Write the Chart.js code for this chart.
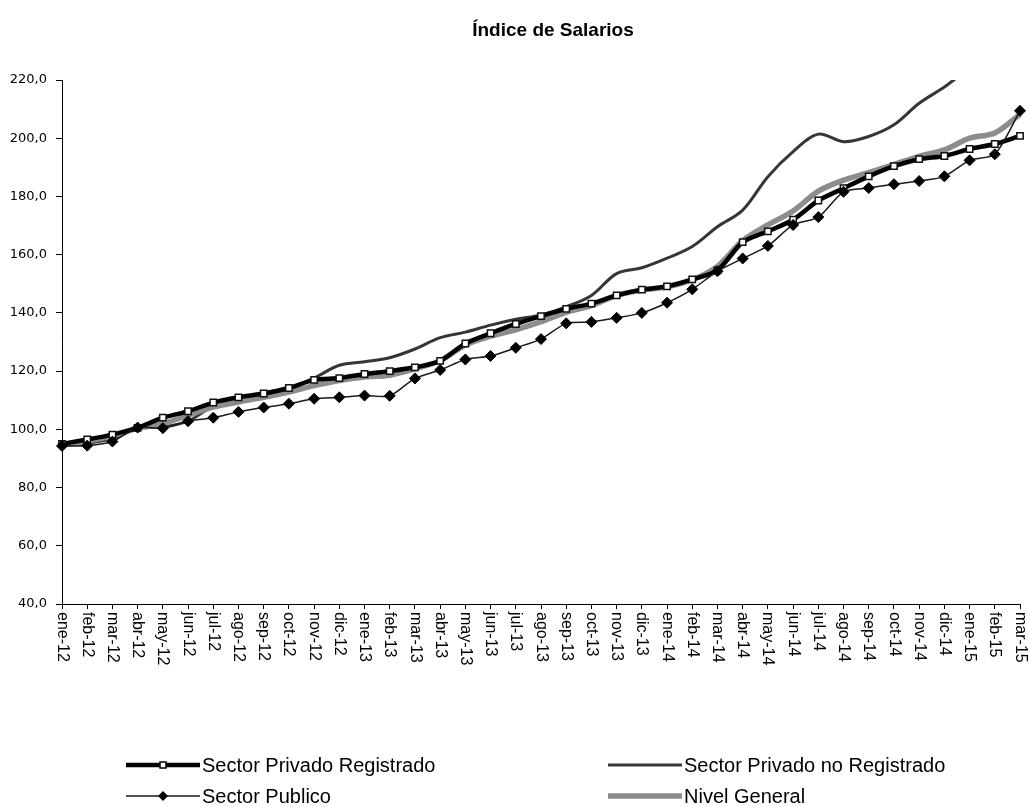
<!DOCTYPE html>
<html>
<head>
<meta charset="utf-8">
<script src="https://cdn.jsdelivr.net/npm/chart.js@4/dist/chart.umd.min.js"></script>
<style>
  body { margin: 0; background: #fff; }
</style>
</head>
<body>
<canvas id="graficoSalarios" width="1029" height="807"></canvas>
<script>
// meses (eje x)
var meses = ['ene-12', 'feb-12', 'mar-12', 'abr-12', 'may-12', 'jun-12', 'jul-12', 'ago-12', 'sep-12', 'oct-12', 'nov-12', 'dic-12',
  'ene-13', 'feb-13', 'mar-13', 'abr-13', 'may-13', 'jun-13', 'jul-13', 'ago-13', 'sep-13', 'oct-13', 'nov-13', 'dic-13',
  'ene-14', 'feb-14', 'mar-14', 'abr-14', 'may-14', 'jun-14', 'jul-14', 'ago-14', 'sep-14', 'oct-14', 'nov-14', 'dic-14',
  'ene-15', 'feb-15', 'mar-15'];

var privadoRegistrado = [95.0, 96.5, 98.2, 100.5, 104.0, 106.2, 109.2, 111.0, 112.3, 114.2, 117.0, 117.6,
  119.0, 120.0, 121.3, 123.5, 129.5, 133.0, 136.2, 138.9, 141.4, 143.2, 146.0, 148.0,
  149.1, 151.5, 154.6, 164.3, 168.0, 172.0, 178.6, 182.8, 186.9, 190.4, 192.8, 193.9,
  196.3, 198.0, 200.8];

var privadoNoRegistrado = [94.4, 95.2, 96.8, 100.2, 100.8, 102.8, 108.0, 110.8, 112.3, 114.0, 117.6, 122.0,
  123.2, 124.6, 127.6, 131.5, 133.4, 135.8, 137.8, 139.3, 142.1, 146.0, 153.5, 155.5,
  158.8, 162.8, 169.6, 175.3, 186.8, 195.4, 201.4, 198.8, 200.6, 204.6, 212.0, 217.6,
  224.0, 229.0, 234.0];

var sectorPublico = [94.3, 94.4, 95.8, 100.6, 100.4, 102.8, 104.0, 106.0, 107.5, 108.8, 110.5, 111.0,
  111.6, 111.5, 117.5, 120.4, 124.0, 125.2, 128.0, 131.0, 136.4, 136.9, 138.3, 140.0,
  143.5, 148.1, 154.3, 158.7, 163.0, 170.2, 172.9, 181.6, 182.9, 184.2, 185.3, 186.9,
  192.4, 194.5, 209.4];

var nivelGeneral = [94.6, 96.0, 97.8, 100.4, 102.0, 104.8, 107.6, 109.4, 111.0, 112.8, 115.0, 116.8,
  118.0, 118.6, 120.8, 123.6, 129.0, 132.0, 134.2, 137.0, 140.2, 142.5, 146.0, 147.8,
  149.0, 151.4, 156.0, 164.8, 170.2, 175.0, 181.8, 185.6, 188.2, 191.0, 193.8, 196.0,
  200.0, 201.8, 208.2];

var titulo = 'Índice de Salarios';
var FUENTE = '"Liberation Sans", Arial, sans-serif';

// titulo, etiquetas del eje x giradas (de arriba hacia abajo) y leyenda en dos columnas
var dibujos = {
  id: 'dibujos',
  afterDraw: function (chart) {
    var ctx = chart.ctx;
    var area = chart.chartArea;
    var escala = chart.scales.x;
    ctx.save();

    ctx.fillStyle = '#000';
    ctx.font = 'bold 19px ' + FUENTE;
    ctx.textAlign = 'center';
    ctx.textBaseline = 'middle';
    ctx.fillText(titulo, (area.left + area.right) / 2 + 12, 31);

    ctx.font = '16px ' + FUENTE;
    ctx.textAlign = 'left';
    for (var i = 0; i < escala.ticks.length; i++) {
      var x = escala.getPixelForTick(i);
      ctx.save();
      ctx.translate(x, escala.top + 8);
      ctx.rotate(Math.PI / 2);
      ctx.fillText(meses[i], 0, 0);
      ctx.restore();
    }

    var cols = [126, 608];
    var filas = [area.bottom + 161, area.bottom + 192];
    for (var k = 0; k < 4; k++) {
      var ds = chart.data.datasets[k];
      var x0 = cols[k % 2];
      var y0 = filas[Math.floor(k / 2)];
      var largo = 74;
      ctx.strokeStyle = ds.borderColor;
      ctx.lineWidth = ds.borderWidth;
      ctx.beginPath();
      ctx.moveTo(x0, y0);
      ctx.lineTo(x0 + largo, y0);
      ctx.stroke();
      var cx = x0 + largo / 2;
      if (ds.pointStyle == 'rect') {
        ctx.fillStyle = '#fff';
        ctx.strokeStyle = '#000';
        ctx.lineWidth = 1.5;
        ctx.fillRect(cx - 3, y0 - 3, 6, 6);
        ctx.strokeRect(cx - 3, y0 - 3, 6, 6);
      } else if (ds.pointStyle == 'rectRot') {
        ctx.fillStyle = '#000';
        ctx.beginPath();
        ctx.moveTo(cx - 5, y0);
        ctx.lineTo(cx, y0 - 5);
        ctx.lineTo(cx + 5, y0);
        ctx.lineTo(cx, y0 + 5);
        ctx.closePath();
        ctx.fill();
      }
      ctx.fillStyle = '#000';
      ctx.font = '20px "Liberation Sans Narrow", "Arial Narrow", ' + FUENTE;
      ctx.textAlign = 'left';
      ctx.fillText(ds.label, x0 + largo + 2, y0 + 1);
    }
    ctx.restore();
  }
};

var ctx = document.getElementById('graficoSalarios').getContext('2d');
var chart = new Chart(ctx, {
  type: 'line',
  data: {
    labels: meses,
    datasets: [
      {
        label: 'Sector Privado Registrado',
        data: privadoRegistrado,
        borderColor: '#000',
        borderWidth: 4.5,
        pointStyle: 'rect',
        pointRadius: 4.5,
        pointBorderWidth: 1.5,
        pointBackgroundColor: '#fff',
        pointBorderColor: '#111',
        tension: 0.25,
        order: 1
      },
      {
        label: 'Sector Privado no Registrado',
        data: privadoNoRegistrado,
        borderColor: '#363636',
        borderWidth: 3,
        pointRadius: 0,
        tension: 0.35,
        clip: 0,
        order: 3
      },
      {
        label: 'Sector Publico',
        data: sectorPublico,
        borderColor: '#1a1a1a',
        borderWidth: 1.5,
        pointStyle: 'rectRot',
        pointRadius: 5.5,
        pointBorderWidth: 1,
        pointBackgroundColor: '#000',
        pointBorderColor: '#000',
        tension: 0.25,
        order: 0
      },
      {
        label: 'Nivel General',
        data: nivelGeneral,
        borderColor: '#8c8c8c',
        borderWidth: 5.5,
        pointRadius: 0,
        tension: 0.3,
        order: 2
      }
    ]
  },
  options: {
    responsive: false,
    animation: false,
    devicePixelRatio: 1,
    layout: { padding: { left: 0, right: 9, top: 80, bottom: 0 } },
    plugins: {
      legend: { display: false },
      tooltip: { enabled: false },
      title: { display: false }
    },
    scales: {
      x: {
        offset: false,
        ticks: { color: 'rgba(0,0,0,0)', autoSkip: false, minRotation: 90, maxRotation: 90, font: { family: FUENTE, size: 16 } },
        grid: { drawOnChartArea: false, tickLength: 5, color: '#000', tickColor: '#000' },
        border: { color: '#000', width: 1 },
        afterFit: function (s) {
          s.height = 203;
          s.paddingLeft = 0;
          s.paddingRight = 0;
        }
      },
      y: {
        min: 40,
        max: 220,
        ticks: {
          stepSize: 20,
          color: '#000',
          padding: 9,
          font: { family: '"DejaVu Sans", sans-serif', size: 13 },
          callback: function (v) { return v.toFixed(1).replace('.', ','); }
        },
        grid: { drawOnChartArea: false, tickLength: 6, color: '#000', tickColor: '#000' },
        border: { color: '#000', width: 1 },
        afterFit: function (s) {
          s.width = 62;
          s.paddingTop = 0;
          s.paddingBottom = 0;
        }
      }
    }
  },
  plugins: [dibujos]
});
</script>
</body>
</html>
